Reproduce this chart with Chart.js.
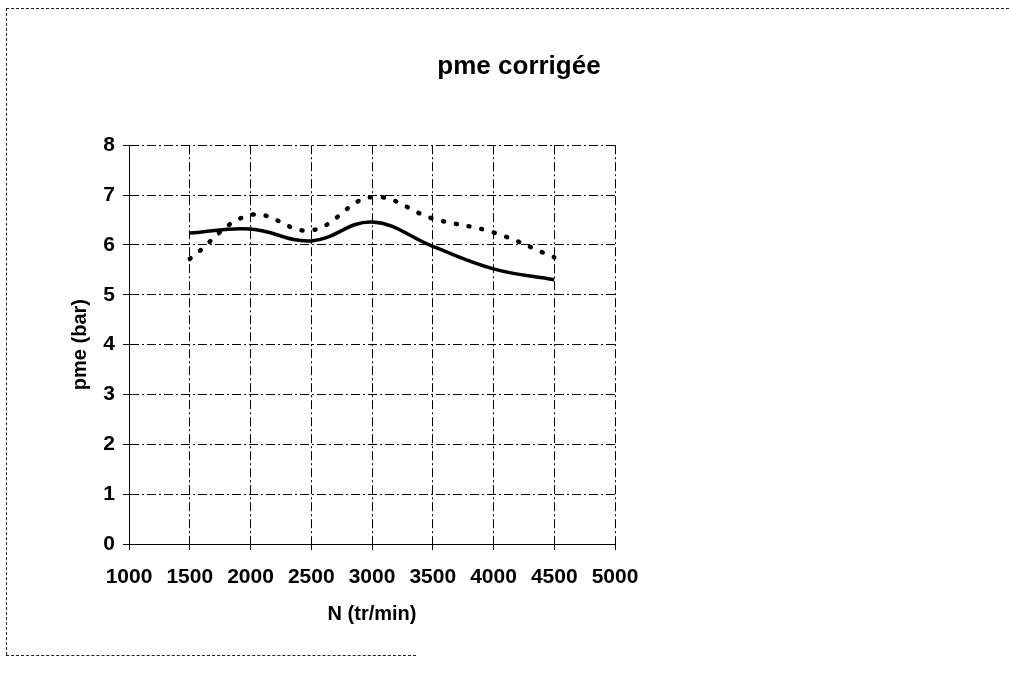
<!DOCTYPE html>
<html>
<head>
<meta charset="utf-8">
<script src="https://cdn.jsdelivr.net/npm/chart.js@4/dist/chart.umd.min.js"></script>
<style>
  html, body { margin: 0; padding: 0; background: #fff; }
  #cadre { position: relative; width: 1009px; height: 680px; }
  #grafica { position: absolute; left: 0; top: 0; }
  .bord { position: absolute; }
  #bordHaut { left: 6px; top: 8px; width: 1003px; border-top: 1px dashed #222; }
  #bordGauche { left: 6px; top: 8px; height: 647px; border-left: 1px dashed #222; }
  #bordBas { left: 6px; top: 655px; width: 410px; border-top: 1px dashed #222; }
</style>
</head>
<body>
<div id="cadre">
  <canvas id="grafica" width="1009" height="680"></canvas>
  <div class="bord" id="bordHaut"></div>
  <div class="bord" id="bordGauche"></div>
  <div class="bord" id="bordBas"></div>
</div>
<script>
// regime moteur (tr/min)
var regime = [1500, 2000, 2500, 3000, 3500, 4000, 4500];
// pme corrigee, courbe en trait plein
var pmeTrait = [6.24, 6.32, 6.08, 6.46, 5.97, 5.52, 5.30];
// pme corrigee, courbe en pointille
var pmePoint = [5.72, 6.60, 6.29, 6.96, 6.53, 6.25, 5.75];
// graduations
var ticksX = [1000, 1500, 2000, 2500, 3000, 3500, 4000, 4500, 5000];
var ticksY = [0, 1, 2, 3, 4, 5, 6, 7, 8];

function points(valeurs){
    let res = [];
    for(let i=0; i<regime.length; i++){
        res.push({x: regime[i], y: valeurs[i]});
    }
    return res;
}

var police = "'Liberation Sans', Arial, sans-serif";
var tirets = [9, 3, 2, 3];

var graf = document.getElementById("grafica").getContext("2d");

new Chart(graf, {
    type: 'line',
    data: {
        datasets: [{
            label: 'pme trait',
            data: points(pmeTrait),
            borderColor: '#000',
            borderWidth: 3.5,
            tension: 0.4,
            pointRadius: 0,
            fill: false
        },
        {
            label: 'pme pointille',
            data: points(pmePoint),
            borderColor: '#000',
            borderWidth: 4.5,
            borderDash: [1, 12],
            borderCapStyle: 'round',
            tension: 0.4,
            pointRadius: 0,
            fill: false
        }]
    },
    options: {
        responsive: false,
        animation: false,
        layout: { padding: { left: 29, top: 0, right: 0, bottom: 44 } },
        plugins: {
            legend: { display: false },
            tooltip: { enabled: false },
            title: {
                display: true,
                text: 'pme corrigée',
                color: '#000',
                font: { family: police, size: 26, weight: 'bold' },
                padding: { top: 51, bottom: 63 }
            }
        },
        scales: {
            x: {
                type: 'linear',
                min: 1000,
                max: 5000,
                afterBuildTicks: function(axe){
                    axe.ticks = ticksX.map(function(v){ return {value: v}; });
                },
                afterFit: function(axe){ axe.height = 92; },
                ticks: {
                    color: '#000',
                    font: { family: police, size: 21, weight: 'bold' },
                    padding: 15,
                    maxRotation: 0,
                    autoSkip: false,
                    callback: function(v){ return String(v); }
                },
                grid: {
                    color: '#000',
                    lineWidth: 1,
                    tickLength: 6
                },
                border: { color: '#000', dash: tirets },
                title: {
                    display: true,
                    text: 'N (tr/min)',
                    color: '#000',
                    font: { family: police, size: 20, weight: 'bold' },
                    padding: { top: 4, bottom: 10 }
                }
            },
            y: {
                min: 0,
                max: 8,
                afterBuildTicks: function(axe){
                    axe.ticks = ticksY.map(function(v){ return {value: v}; });
                },
                afterFit: function(axe){ axe.width = 100; },
                ticks: {
                    color: '#000',
                    font: { family: police, size: 21, weight: 'bold' },
                    padding: 8,
                    callback: function(v){ return String(v); }
                },
                grid: {
                    color: '#000',
                    lineWidth: 1,
                    tickLength: 6
                },
                border: { color: '#000', dash: tirets },
                title: {
                    display: true,
                    text: 'pme (bar)',
                    color: '#000',
                    font: { family: police, size: 20, weight: 'bold' },
                    padding: { top: 39, bottom: 4 }
                }
            },
            droite: {
                position: 'right',
                afterFit: function(axe){ axe.width = 394; },
                ticks: { display: false },
                grid: { display: false },
                border: { display: false }
            }
        }
    }
});
</script>
</body>
</html>
